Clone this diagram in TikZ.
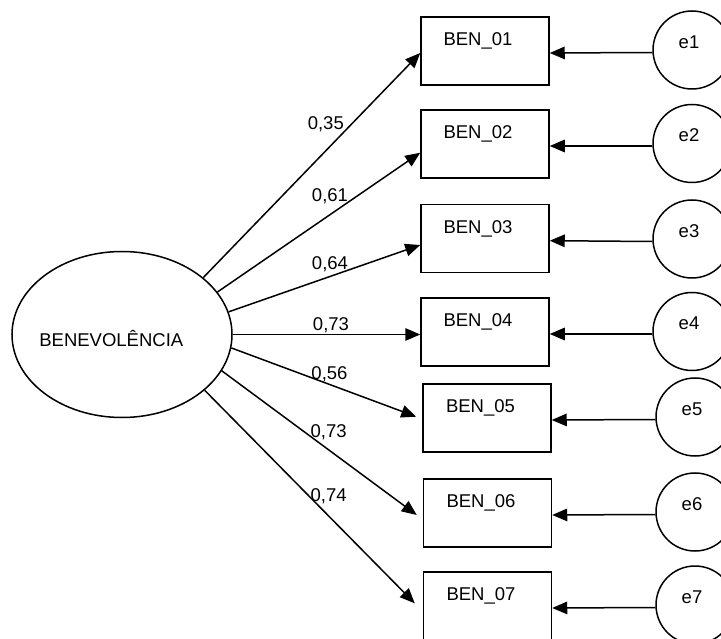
\documentclass[tikz,border=0pt]{standalone}
\usepackage{fontspec}
\setmainfont{Liberation Sans}
\usetikzlibrary{shapes.geometric,arrows.meta}
\begin{document}
\begin{tikzpicture}[x=1pt,y=-1pt,
  txt/.style={font=\fontsize{18.5}{22}\selectfont, inner sep=0pt, anchor=base},
  obs/.style={draw, line width=1.5pt, rectangle, minimum width=128pt, minimum height=68pt, inner sep=0pt},
  err/.style={draw, line width=1.5pt, circle, minimum size=78pt, inner sep=0pt},
  lat/.style={draw, line width=1.5pt, ellipse, minimum width=220pt, minimum height=166pt, inner sep=0pt},
  arr/.style={line width=1.5pt, -{Triangle[length=15pt,width=12.5pt]}}]
\useasboundingbox (0,0) rectangle (721,639);
\clip (0,0) rectangle (721,639);
\fill[white] (0,0) rectangle (721,639);

% latent variable
\node[lat] (ben) at (122,334.5) {};
\node[txt] (bentxt) at (111.3,346.7) {BENEVOLÊNCIA};

% observed boxes
\node[obs] (b1) at (485,51) {};
\node[obs] (b2) at (485,144) {};
\node[obs] (b3) at (485,238.7) {};
\node[obs] (b4) at (485,332) {};
\node[obs] (b5) at (487,418) {};
\node[obs] (b6) at (487.5,513) {};
\node[obs] (b7) at (487.5,606) {};
\node[txt] (t1) at (478,45.7) {BEN\_01};
\node[txt] (t2) at (478,138.7) {BEN\_02};
\node[txt] (t3) at (478,233.4) {BEN\_03};
\node[txt] (t4) at (478,326.7) {BEN\_04};
\node[txt] (t5) at (480.5,412.7) {BEN\_05};
\node[txt] (t6) at (481,507.7) {BEN\_06};
\node[txt] (t7) at (481,600.7) {BEN\_07};

% error terms
\node[err] (e1) at (692,50) {};
\node[err] (e2) at (692,143.5) {};
\node[err] (e3) at (692,239) {};
\node[err] (e4) at (692,331.5) {};
\node[err] (e5) at (695,417) {};
\node[err] (e6) at (695,512) {};
\node[err] (e7) at (695,605) {};
\node[txt] (et1) at (689,48.5) {e1};
\node[txt] (et2) at (689,142) {e2};
\node[txt] (et3) at (689,237.5) {e3};
\node[txt] (et4) at (689,330) {e4};
\node[txt] (et5) at (692,415.5) {e5};
\node[txt] (et6) at (692,510.5) {e6};
\node[txt] (et7) at (692,603.5) {e7};

% error arrows
\draw[arr] ([yshift=-2.5pt]e1.west) -- ([yshift=-2pt]b1.east);
\draw[arr] ([yshift=-2.5pt]e2.west) -- ([yshift=-2pt]b2.east);
\draw[arr] ([yshift=-2.5pt]e3.west) -- ([yshift=-2pt]b3.east);
\draw[arr] ([yshift=-2.5pt]e4.west) -- ([yshift=-2pt]b4.east);
\draw[arr] ([yshift=-2.5pt]e5.west) -- ([yshift=-2pt]b5.east);
\draw[arr] ([yshift=-2.5pt]e6.west) -- ([yshift=-2pt]b6.east);
\draw[arr] ([yshift=-2.5pt]e7.west) -- ([yshift=-2pt]b7.east);

% loadings
\draw[arr] (ben.35.6) -- ([yshift=-2pt]b1.west);
\draw[arr] (ben.24.4) -- ([yshift=-8.7pt]b2.west);
\draw[arr] (ben.12) -- ([yshift=-6.3pt]b3.west);
\draw[arr] (ben.east) -- (ben.east -| b4.west);
\draw[arr] (ben.-7.4) -- ([xshift=-6pt,yshift=1.3pt]b5.west);
\draw[arr] (ben.-20.4) -- ([xshift=-6pt,yshift=-2pt]b6.west);
\draw[arr] (ben.-34.1) -- ([xshift=-8pt,yshift=2.7pt]b7.west);

% loading labels
\node[txt] (l1) at (325.8,129.3) {0,35};
\node[txt] (l2) at (330,201.7) {0,61};
\node[txt] (l3) at (330,269.5) {0,64};
\node[txt] (l4) at (331,330.7) {0,73};
\node[txt] (l5) at (329.5,379.3) {0,56};
\node[txt] (l6) at (328.7,437.3) {0,73};
\node[txt] (l7) at (328.7,501.7) {0,74};
\end{tikzpicture}
\end{document}
